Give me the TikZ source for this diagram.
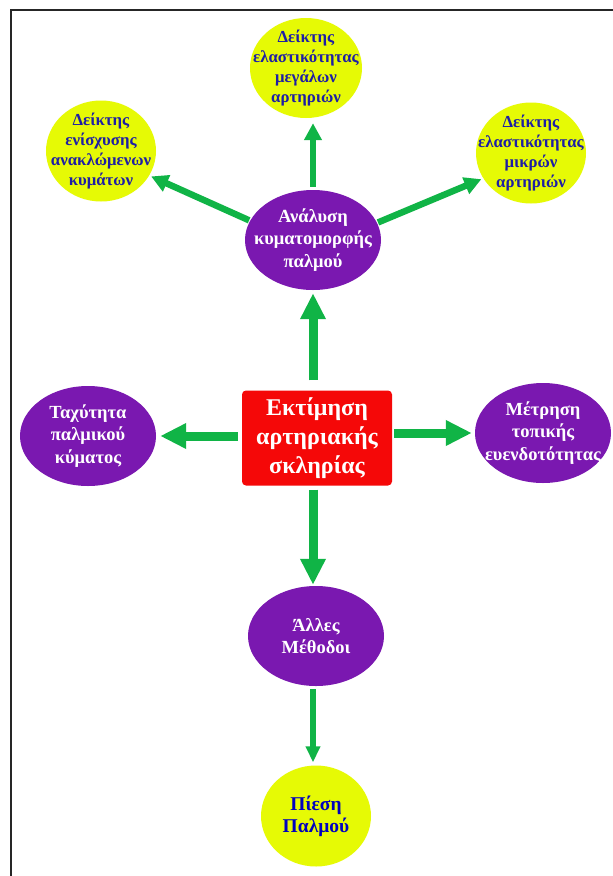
\documentclass[tikz,border=0pt]{standalone}
\usepackage{fontspec}
\setmainfont{Liberation Serif}
\usetikzlibrary{shapes.geometric,arrows.meta}
\definecolor{yel}{RGB}{230,250,5}
\definecolor{purp}{RGB}{122,24,176}
\definecolor{redb}{RGB}{245,8,8}
\definecolor{grn}{RGB}{16,180,70}
\definecolor{bluetxt}{RGB}{30,30,165}
\tikzset{
  ybub/.style={ellipse, fill=yel, draw=none, inner sep=0pt, minimum width=110pt, minimum height=101pt},
  pbub/.style={ellipse, fill=purp, draw=none, inner sep=0pt, minimum width=136pt, minimum height=100pt},
  ytext/.style={align=center, text=bluetxt, font={\fontsize{16.8}{20}\selectfont\bfseries}, inner sep=0pt},
  ptext/.style={align=center, text=white, font={\fontsize{18.5}{22.5}\selectfont\bfseries}, inner sep=0pt},
  bigarr/.style={draw=grn, line width=9pt, -{Triangle[width=24pt,length=26pt]}},
  smallarr/.style={draw=grn, line width=6.5pt, -{Triangle[width=17pt,length=17pt]}},
}
\begin{document}
\begin{tikzpicture}[x=1pt,y=-1pt]
\useasboundingbox (0,0) rectangle (613,876);
\fill[white] (0,0) rectangle (613,876);
\draw[line width=2.4pt, black!85] (11,877) -- (11,10) -- (614,10);

% central box
\node[rectangle, rounded corners=4pt, fill=redb, minimum width=150pt, minimum height=95pt, inner sep=0pt,
      align=center, text=white, font={\fontsize{24}{29}\selectfont\bfseries}] (est) at (317,438)
      {Εκτίμηση\\αρτηριακής\\σκληρίας};

% purple ellipses
\node[pbub] (ana) at (313,240) {};
\node[ptext] at (ana) {Ανάλυση\\κυματομορφής\\παλμού};
\node[pbub] (tax) at (88,436) {};
\node[ptext] at (tax) {Ταχύτητα\\παλμικού\\κύματος};
\node[pbub] (met) at (543,433) {};
\node[ptext] at (met) {Μέτρηση\\τοπικής\\ευενδοτότητας};
\node[pbub] (all) at (316,636) {};
\node[ptext] at (all) {Άλλες\\Μέθοδοι};

% yellow circles
\node[ybub, minimum height=100pt, minimum width=112pt] (meg) at (306,68) {};
\node[ytext] at (meg) {Δείκτης\\ελαστικότητας\\μεγάλων\\αρτηριών};
\node[ybub] (eni) at (101,151) {};
\node[ytext] at (eni) {Δείκτης\\ενίσχυσης\\ανακλώμενων\\κυμάτων};
\node[ybub] (mik) at (531,153) {};
\node[ytext] at (mik) {Δείκτης\\ελαστικότητας\\μικρών\\αρτηριών};
\node[ybub] (pie) at (316,816) {};
\node[ytext, text=blue!75!black, font={\fontsize{19.5}{22}\selectfont\bfseries}] at (pie) {Πίεση\\Παλμού};

% arrows from the central box
\draw[bigarr, shorten <=10pt, shorten >=3pt] (est.north -| ana.south) -- (ana.south);
\draw[bigarr, shorten <=4pt, shorten >=1pt] (est.south -| ana.south) -- (all.north -| ana.south);
\draw[bigarr, shorten <=4pt, shorten >=4pt] (est.west |- tax.east) -- (tax.east);
\draw[bigarr, shorten <=2pt, shorten >=3pt] (est.east |- met.west) -- (met.west);

% arrows from the analysis node
\draw[smallarr, shorten <=3pt, shorten >=5pt] (ana.north -| ana.south) -- (meg.south -| ana.south);
\draw[smallarr, shorten <=1pt, shorten >=2pt] (ana.163) -- (eni.-27);
\draw[smallarr, shorten <=1pt, shorten >=2pt] (ana.15) -- (mik.208);

% arrow to pulse pressure
\draw[smallarr, line width=5.5pt, -{Triangle[width=14pt,length=16pt]}, shorten <=3pt, shorten >=3pt] (all.south -| ana.south) -- (pie.north -| ana.south);
\end{tikzpicture}
\end{document}
